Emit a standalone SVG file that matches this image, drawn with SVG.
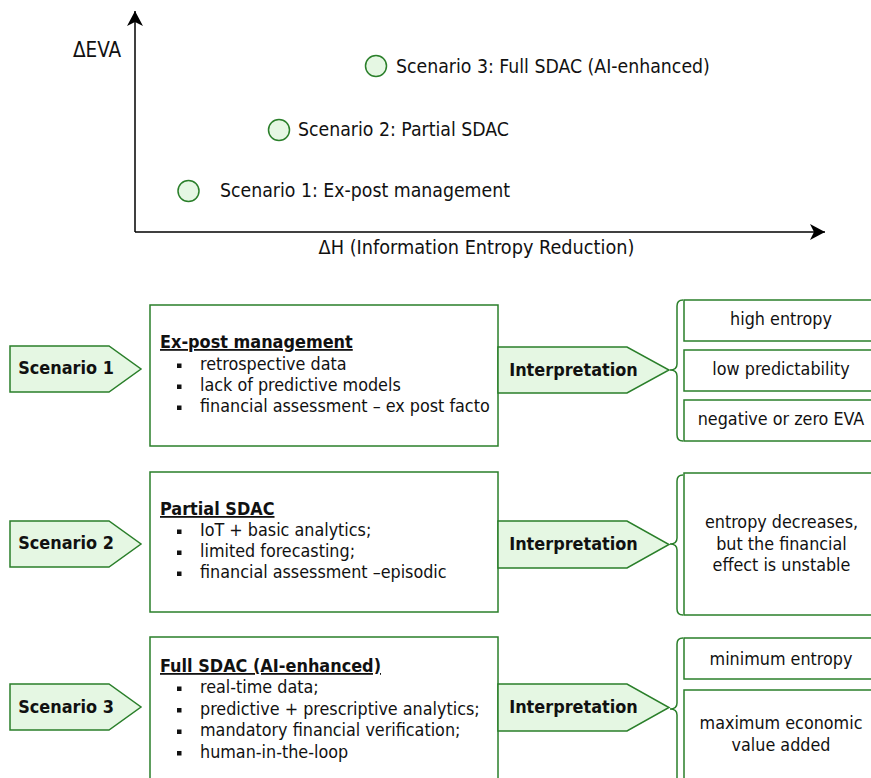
<svg xmlns="http://www.w3.org/2000/svg" width="871" height="778" viewBox="0 0 871 778">
<style>
text{font-family:"DejaVu Sans Condensed","DejaVu Sans",sans-serif;fill:#111;}
.ax{font-size:19.3px;}
.body{font-size:17.8px;}
.b{font-size:17.9px;font-weight:bold;}
.t{font-size:17.9px;font-weight:bold;text-decoration:underline;}
.c{text-anchor:middle;}
.g{fill:#e5f7e3;stroke:#2a7f2a;stroke-width:1.5;}
.w{fill:#ffffff;stroke:#2a7f2a;stroke-width:1.5;}
.br{fill:none;stroke:#2a7f2a;stroke-width:1.5;}
.axis{stroke:#000;stroke-width:1.5;fill:none;}
.bul{fill:#111;}
</style>
<defs>
<marker id="arr" markerWidth="16" markerHeight="16" viewBox="0 0 16 16" refX="15" refY="8" orient="auto" markerUnits="userSpaceOnUse">
<path d="M0,0 L15,8 L0,16 L4,8 Z" fill="#000"/>
</marker>
</defs>
<rect width="871" height="778" fill="#ffffff"/>

<g id="chart">
<g id="connectors-axes">
<line class="axis" x1="135" y1="232" x2="135" y2="11" marker-end="url(#arr)"/>
<line class="axis" x1="135" y1="232" x2="825" y2="232" marker-end="url(#arr)"/>
</g>
<text class="ax" x="97" y="57" text-anchor="middle" style="font-size:20.5px">ΔEVA</text>
<text class="ax" x="476.5" y="254" text-anchor="middle" style="font-size:19.7px">ΔH (Information Entropy Reduction)</text>
<g id="pt1"><circle class="g" cx="188.5" cy="191" r="10.5"/><text class="ax" x="220" y="197">Scenario 1: Ex-post management</text></g>
<g id="pt2"><circle class="g" cx="279" cy="130" r="10.5"/><text class="ax" x="298" y="136">Scenario 2: Partial SDAC</text></g>
<g id="pt3"><circle class="g" cx="376" cy="66" r="10.5"/><text class="ax" x="396" y="72.5">Scenario 3: Full SDAC (AI-enhanced)</text></g>
</g>

<!-- Row 1 -->
<g id="scenario1"><path class="g" d="M10,346 L109,346 L141,369 L109,392 L10,392 Z"/><text class="b c" x="66" y="374">Scenario 1</text></g>
<g id="box1">
<rect class="w" x="150" y="305" width="348" height="141"/>
<text class="t" x="160" y="348">Ex-post management</text>
<rect class="bul" x="177" y="363.5" width="4.5" height="4.5"/><text class="body" x="200" y="370">retrospective data</text>
<rect class="bul" x="177" y="384.5" width="4.5" height="4.5"/><text class="body" x="200" y="391">lack of predictive models</text>
<rect class="bul" x="177" y="405.5" width="4.5" height="4.5"/><text class="body" x="200" y="412">financial assessment – ex post facto</text>
</g>
<g id="interp1"><path class="g" d="M498,347 L627,347 L669,370 L627,393 L498,393 Z"/><text class="b c" x="573.5" y="376">Interpretation</text></g>
<g id="out1">
<rect class="w" x="684" y="300" width="194" height="41"/><text class="body c" x="781" y="325">high entropy</text>
<rect class="w" x="684" y="350" width="194" height="41"/><text class="body c" x="781" y="375">low predictability</text>
<rect class="w" x="684" y="400" width="194" height="41"/><text class="body c" x="781" y="425">negative or zero EVA</text>
</g>

<!-- Row 2 -->
<g id="scenario2"><path class="g" d="M10,521 L109,521 L141,544 L109,567 L10,567 Z"/><text class="b c" x="66" y="549">Scenario 2</text></g>
<g id="box2">
<rect class="w" x="150" y="472" width="348" height="140"/>
<text class="t" x="160" y="515">Partial SDAC</text>
<rect class="bul" x="177" y="529.5" width="4.5" height="4.5"/><text class="body" x="200" y="536">IoT + basic analytics;</text>
<rect class="bul" x="177" y="550.5" width="4.5" height="4.5"/><text class="body" x="200" y="557">limited forecasting;</text>
<rect class="bul" x="177" y="571.5" width="4.5" height="4.5"/><text class="body" x="200" y="578">financial assessment –episodic</text>
</g>
<g id="interp2"><path class="g" d="M498,521 L627,521 L669,544.5 L627,568 L498,568 Z"/><text class="b c" x="573.5" y="550">Interpretation</text></g>
<g id="out2">
<rect class="w" x="684" y="473" width="194" height="142"/>
<text class="body c" x="781.5" y="528">entropy decreases,</text>
<text class="body c" x="781.5" y="550">but the financial</text>
<text class="body c" x="781.5" y="571">effect is unstable</text>
</g>

<!-- Row 3 -->
<g id="scenario3"><path class="g" d="M10,684 L109,684 L141,707 L109,730 L10,730 Z"/><text class="b c" x="66" y="713">Scenario 3</text></g>
<g id="box3">
<rect class="w" x="150" y="637" width="348" height="180"/>
<text class="t" x="160" y="672">Full SDAC (AI-enhanced)</text>
<rect class="bul" x="177" y="686.5" width="4.5" height="4.5"/><text class="body" x="200" y="693">real-time data;</text>
<rect class="bul" x="177" y="708" width="4.5" height="4.5"/><text class="body" x="200" y="714.5">predictive + prescriptive analytics;</text>
<rect class="bul" x="177" y="729.5" width="4.5" height="4.5"/><text class="body" x="200" y="736">mandatory financial verification;</text>
<rect class="bul" x="177" y="751" width="4.5" height="4.5"/><text class="body" x="200" y="757.5">human-in-the-loop</text>
</g>
<g id="interp3"><path class="g" d="M498,684 L627,684 L669,707.5 L627,731 L498,731 Z"/><text class="b c" x="573.5" y="713">Interpretation</text></g>
<g id="out3">
<rect class="w" x="684" y="638" width="194" height="41"/><text class="body c" x="781" y="665">minimum entropy</text>
<rect class="w" x="684" y="690" width="194" height="130"/>
<text class="body c" x="781" y="729">maximum economic</text>
<text class="body c" x="781" y="751">value added</text>
</g>

<g id="connectors">
<path class="br" d="M683,300 Q677,300 677,306 L677,364 Q677,370 670,370 Q677,370 677,376 L677,435 Q677,441 683,441"/>
<path class="br" d="M683,475 Q677,475 677,481 L677,538 Q677,544 670,544 Q677,544 677,550 L677,609 Q677,615 683,615"/>
<path class="br" d="M683,638 Q677,638 677,644 L677,703 Q677,709 670,709 Q677,709 677,715 L677,820"/>
</g>
</svg>
